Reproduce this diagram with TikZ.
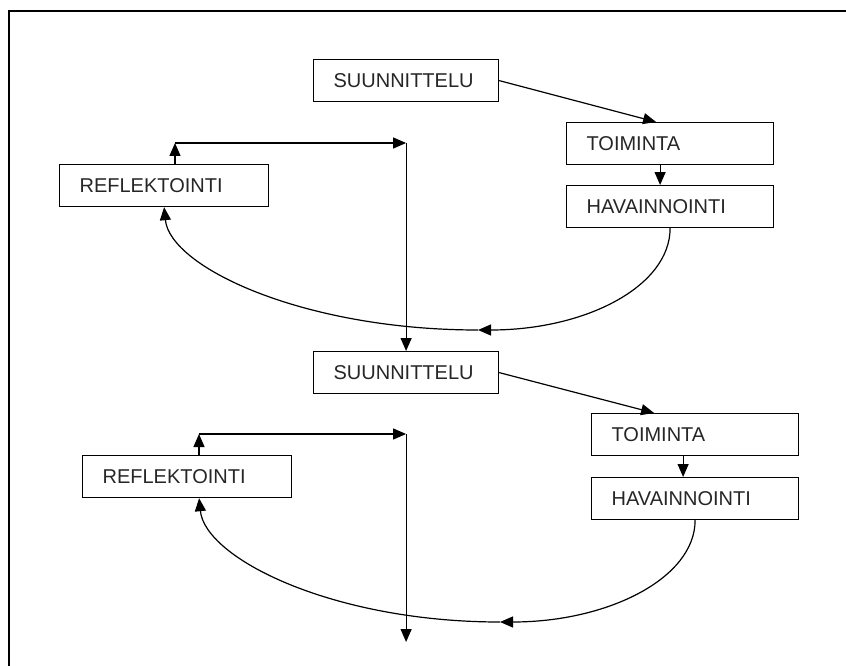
\documentclass[tikz,border=0pt]{standalone}
\usepackage{fontspec}
\setmainfont{Liberation Sans}
\usetikzlibrary{arrows.meta}

\tikzset{
    laatikko/.style={draw, line width=1.2pt, minimum height=42pt, inner xsep=20pt, inner ysep=0pt,
        text width=#1, align=left, anchor=north west, font=\fontsize{20}{24}\selectfont, text=black!85},
    nuoli/.style={line width=1.2pt, -{Triangle[length=13pt,width=11pt]}}
}

\begin{document}
\begin{tikzpicture}[x=1pt, y=-1pt]
    \useasboundingbox (0,0) rectangle (846,666);

    % Frame
    \draw[line width=2pt] (8.5,680) -- (8.5,11) -- (860,11);

    % First cycle
    \node[laatikko=145pt] (suun1) at (313,59) {SUUNNITTELU};
    \node[laatikko=167pt] (toim1) at (566,122) {TOIMINTA};
    \node[laatikko=167pt] (hav1) at (566,185) {HAVAINNOINTI};
    \node[laatikko=169pt] (refl1) at (59,164) {REFLEKTOINTI};

    % Second cycle
    \node[laatikko=145pt] (suun2) at (313,351) {SUUNNITTELU};
    \node[laatikko=167pt] (toim2) at (591,413) {TOIMINTA};
    \node[laatikko=167pt] (hav2) at (591,477) {HAVAINNOINTI};
    \node[laatikko=169pt] (refl2) at (82,455) {REFLEKTOINTI};

    % Corners and ends of the connectors
    \coordinate (ala1) at (478,330);
    \coordinate (ala2) at (500,622);
    \coordinate (k1) at (175,143);
    \coordinate (k2) at (199,434);
    \coordinate (p1) at (suun2.north |- k1);
    \coordinate (p2) at (suun2.north |- k2);
    \coordinate (loppu) at (suun2.north |- 0,642);

    % Arrows of the first cycle
    \draw[nuoli] (suun1.east) -- ([xshift=-14pt]toim1.north);
    \draw[nuoli] ([xshift=-10pt]toim1.south) -- ([xshift=-10pt]hav1.north);
    \draw[nuoli] (hav1.south) .. controls +(0,58) and +(108,0) .. (ala1);
    \draw[nuoli] (ala1) .. controls +(-175,0) and +(6,60) .. (refl1.south);
    \draw[nuoli] (k1 |- refl1.north) -- (k1);
    \draw[nuoli] (k1) -- (p1);
    \draw[nuoli] (p1) -- (suun2.north);

    % Arrows of the second cycle
    \draw[nuoli] (suun2.east) -- ([xshift=-41pt]toim2.north);
    \draw[nuoli] ([xshift=-12pt]toim2.south) -- ([xshift=-12pt]hav2.north);
    \draw[nuoli] (hav2.south) .. controls +(0,58) and +(108,0) .. (ala2);
    \draw[nuoli] (ala2) .. controls +(-168,0) and +(6,60) .. ([xshift=12pt]refl2.south);
    \draw[nuoli] (k2 |- refl2.north) -- (k2);
    \draw[nuoli] (k2) -- (p2);
    \draw[nuoli] (p2) -- (loppu);

\end{tikzpicture}
\end{document}
